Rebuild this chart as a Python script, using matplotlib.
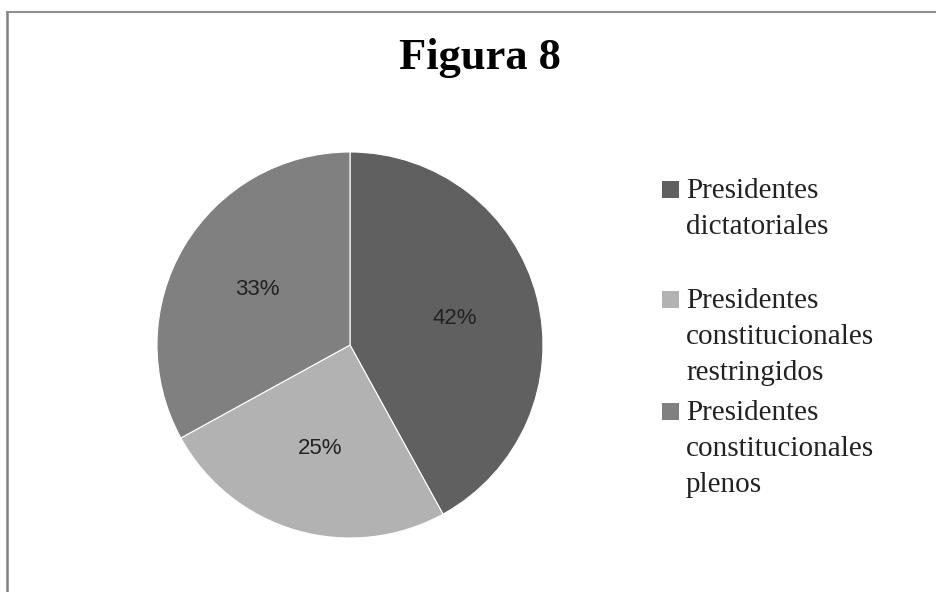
import matplotlib
matplotlib.use('Agg')
import matplotlib.pyplot as plt
from matplotlib.lines import Line2D
from matplotlib.patches import Rectangle

# data
labels = ['Presidentes\ndictatoriales',
          'Presidentes\nconstitucionales\nrestringidos',
          'Presidentes\nconstitucionales\nplenos']
shares = [42, 25, 33]
colors = ['#606060', '#b2b2b2', '#808080']
title = 'Figura 8'

W, H = 936, 592
fig = plt.figure(figsize=(W / 100, H / 100), dpi=100)

# chart frame (only left and top edges are visible)
fig.add_artist(Line2D([7 / W, 7 / W], [0, 1 - 12 / H], transform=fig.transFigure,
                      color='#808080', lw=1.8))
fig.add_artist(Line2D([7 / W, 1], [1 - 12 / H, 1 - 12 / H], transform=fig.transFigure,
                      color='#909090', lw=1.5))

# title
fig.text(480 / W, 1 - 58 / H, title, ha='center', va='center',
         fontsize=32, fontweight='bold', family='Liberation Serif')

# pie
cx, cy, r = 350, 345, 193
ax = fig.add_axes([(cx - r) / W, (H - cy - r) / H, 2 * r / W, 2 * r / H])
wedges, _, autotexts = ax.pie(shares, colors=colors, startangle=90, counterclock=False,
                              autopct='%1.0f%%', pctdistance=0.56,
                              wedgeprops=dict(edgecolor='white', linewidth=0.8),
                              textprops=dict(fontsize=16, family='Liberation Sans',
                                             color='#222222'))
ax.set_xlim(-1, 1)
ax.set_ylim(-1, 1)
ax.set_aspect('equal')
ax.axis('off')

# legend, drawn by hand to mimic the spacing of the original
tops = [178, 288, 400]
for lab, col, top in zip(labels, colors, tops):
    fig.add_artist(Rectangle((662 / W, 1 - (top + 20) / H), 17 / W, 17 / H,
                             transform=fig.transFigure, facecolor=col, edgecolor='none'))
    fig.text(686 / W, 1 - top / H, lab, ha='left', va='top', fontsize=21,
             family='Liberation Serif', color='#222222', linespacing=1.5)

fig.savefig('out.png', dpi=100)
